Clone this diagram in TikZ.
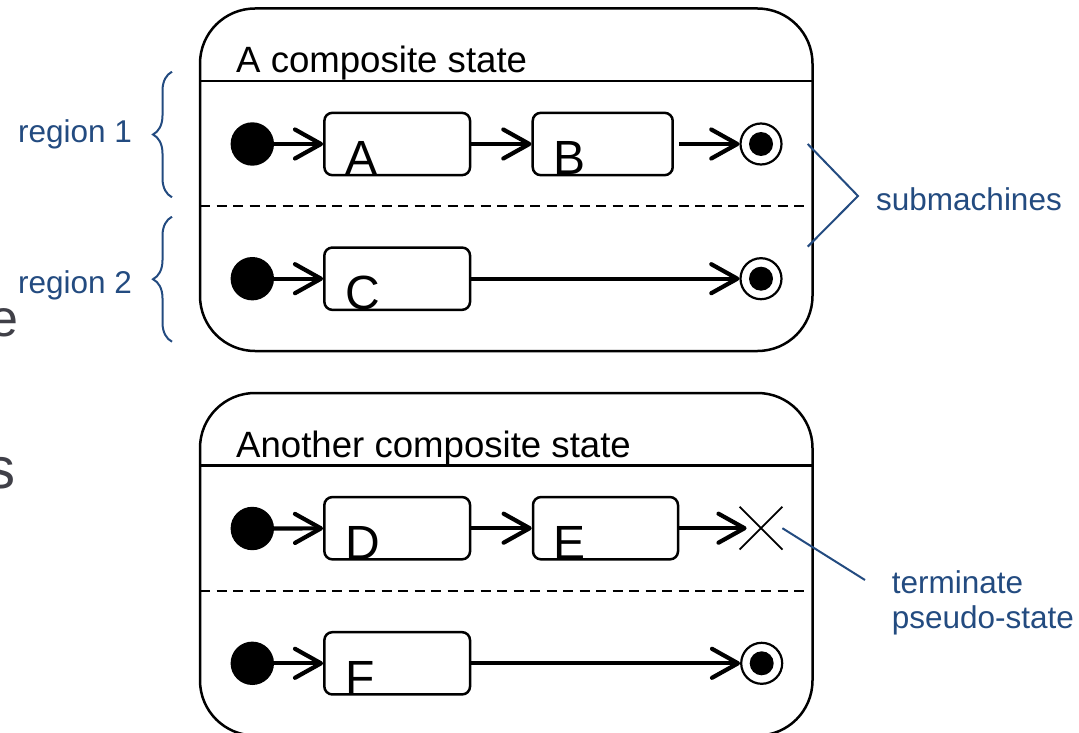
\documentclass[tikz,border=0pt]{standalone}
\usepackage{fontspec}
\setmainfont{Liberation Sans}
\usetikzlibrary{arrows.meta, shapes.misc, decorations.pathreplacing, positioning}

\definecolor{noteblue}{RGB}{35,75,128}
\definecolor{slidegrey}{RGB}{64,64,72}

\tikzset{
  composite/.style={draw, line width=2.5pt, rounded corners=55pt, minimum width=612.5pt, minimum height=342.5pt, inner sep=0pt, outer sep=0pt},
  simple/.style={draw, line width=2.5pt, rounded corners=8pt, minimum height=62.3pt, inner sep=0pt},
  initial/.style={circle, fill=black, minimum size=43.4pt, inner sep=0pt},
  final/.style={circle, draw, line width=2.2pt, minimum size=41pt, inner sep=0pt,
    path picture={\fill (path picture bounding box.center) circle (12pt);}},
  terminate/.style={cross out, draw, line width=1.8pt, minimum size=41pt, inner sep=0pt},
  trans/.style={line width=4.2pt, -{Straight Barb[length=26pt, width=29pt, round]}},
  letter/.style={anchor=base west, font=\fontsize{48}{56}\selectfont, inner sep=0pt},
  title/.style={anchor=base west, font=\fontsize{36.6}{44}\selectfont, inner sep=0pt},
  note/.style={anchor=base west, text=noteblue, font=\fontsize{31.5}{36}\selectfont, inner sep=0pt},
  noteline/.style={noteblue, line width=2pt},
  divider/.style={line width=2pt, dash pattern=on 10pt off 6.5pt},
  fragment/.style={anchor=base west, text=slidegrey, inner sep=0pt}
}

\begin{document}
\begin{tikzpicture}[x=1pt, y=-1pt]
\useasboundingbox (0,0) rectangle (1079,733);
\clip (0,0) rectangle (1079,733);

% Slide text behind the picture
\node[fragment, font=\fontsize{52}{60}\selectfont] (frage) at (-10.5,336) {e};
\node[fragment, font=\fontsize{58}{66}\selectfont] (frags) at (-13.7,488) {s};

% First composite state
\node[composite] (cs1) at (506.25,179.75) {};
\node[title] (t1) at (236,73) {A composite state};
\draw[line width=2.5pt] (cs1.west |- 0,81) -- (cs1.east |- 0,81);
\draw[divider] (cs1.west |- 0,206) -- (808,206);

\node[initial] (i1) at (252.3,144) {};
\node[simple, minimum width=145.7pt] (A) at (397.2,144) {};
\node[simple, minimum width=140pt] (B) at (602.7,144) {};
\node[final] (f1) at (761,144) {};
\node[letter] (lA) at ([xshift=22pt, yshift=1.5pt]A.south west) {A};
\node[letter] (lB) at ([xshift=22pt, yshift=1.5pt]B.south west) {B};
\draw[trans] (i1) -- (A);
\draw[trans] (A) -- (B);
\draw[trans, shorten <=5pt] (B) -- (f1);

\node[initial] (i2) at (252.3,278.7) {};
\node[simple, minimum width=145.7pt] (C) at (397.2,278.7) {};
\node[final] (f2) at (761,278.7) {};
\node[letter] (lC) at ([xshift=22pt, yshift=1.5pt]C.south west) {C};
\draw[trans] (i2) -- (C);
\draw[trans] (C) -- (f2);

% Second composite state
\node[composite] (cs2) at (506.25,564.25) {};
\node[title] (t2) at (236,457.5) {Another composite state};
\draw[line width=2.5pt] (cs2.west |- 0,465.5) -- (cs2.east |- 0,465.5);
\draw[divider] (cs2.west |- 0,590.5) -- (808,590.5);

\node[initial] (i3) at (252.3,528.5) {};
\node[simple, minimum width=145.7pt] (D) at (397.2,528.2) {};
\node[simple, minimum width=145pt] (E) at (605.5,528.2) {};
\node[terminate] (T) at (761,528.2) {};
\node[letter] (lD) at ([xshift=22pt, yshift=1.5pt]D.south west) {D};
\node[letter] (lE) at ([xshift=22pt, yshift=1.5pt]E.south west) {E};
\draw[trans] (i3) -- (D);
\draw[trans] (D) -- (E);
\draw[trans, shorten >=-7pt] (E) -- (T);

\node[initial] (i4) at (252.3,663.3) {};
\node[simple, minimum width=145.7pt] (F) at (397.2,663.3) {};
\node[final] (f4) at (761.7,663.3) {};
\node[letter] (lF) at ([xshift=22pt, yshift=1.5pt]F.south west) {F};
\draw[trans] (i4) -- (F);
\draw[trans] (F) -- (f4);

% Notes
\node[note] (reg1) at (17.9,142.7) {region 1};
\node[note] (reg2) at (17.9,293.3) {region 2};
\coordinate (b1top) at (172,71.7);
\coordinate (b1bot) at (172,197.3);
\coordinate (b2top) at (172,216.7);
\coordinate (b2bot) at (172,341.7);
\draw[noteline, decorate, decoration={brace, amplitude=19pt}] (b1bot) -- (b1top);
\draw[noteline, decorate, decoration={brace, amplitude=19pt}] (b2bot) -- (b2top);

\node[note] (sub) at (876,210) {submachines};
\coordinate (sm1) at (807.7,144);
\coordinate (smtip) at (858,196);
\coordinate (sm2) at (807.7,246.7);
\draw[noteline] (sm1) -- (smtip) -- (sm2);

\node[note, align=left, anchor=base west] (term) at (891.7,628) {terminate\\[-1.5pt]pseudo-state};
\coordinate (tp) at (865,580);
\draw[noteline] (T.east) -- (tp);

\end{tikzpicture}
\end{document}
